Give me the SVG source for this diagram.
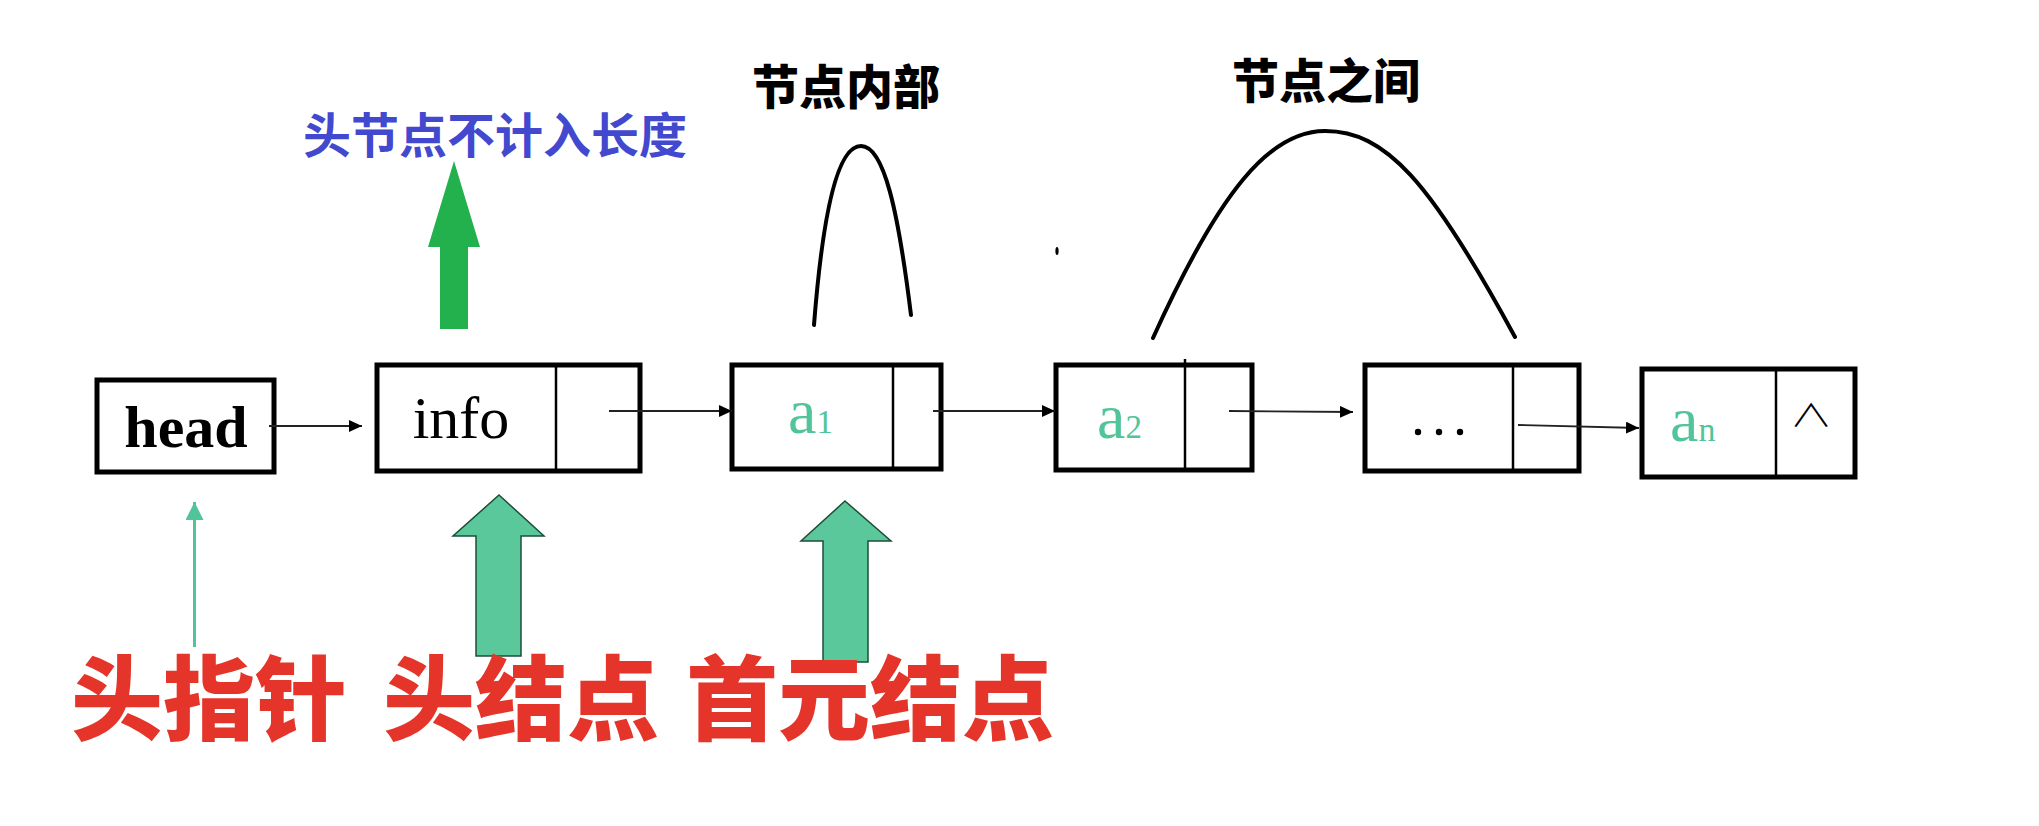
<svg xmlns="http://www.w3.org/2000/svg" width="2039" height="826" viewBox="0 0 2039 826">
<style>
.box{fill:none;stroke:#000;stroke-width:5}
.div{stroke:#000;stroke-width:2.5}
.lat{font-family:"Liberation Serif",serif}
.sub{fill:#52C49A;font-family:"Liberation Serif",serif}
.cjk{font-family:"Noto Sans CJK SC",sans-serif}
.conn{stroke:#222;stroke-width:1.8;fill:none}
.arc{stroke:#000;stroke-width:4;fill:none;stroke-linecap:round}
.big{fill:#5AC89A;stroke:#1E4D3A;stroke-width:1.5}
</style>
<defs>
<marker id="ah" markerUnits="userSpaceOnUse" markerWidth="14" markerHeight="12" refX="13" refY="6" orient="auto">
<path d="M0,0 L13,6 L0,12 z" fill="#000"/>
</marker>
<marker id="gh" markerUnits="userSpaceOnUse" markerWidth="20" markerHeight="18" refX="18" refY="9" orient="auto">
<path d="M0,0 L18,9 L0,18 z" fill="#52C49A"/>
</marker>
</defs>
<rect width="2039" height="826" fill="#fff"/>

<g id="node-head">
<rect class="box" x="97" y="380" width="177" height="92"/>
<text class="lat" x="186" y="447" font-size="60" font-weight="bold" text-anchor="middle">head</text>
</g>
<g id="node-info">
<rect class="box" x="377" y="365" width="263" height="106"/>
<line class="div" x1="556" y1="365" x2="556" y2="471"/>
<text class="lat" x="461" y="438" font-size="60" text-anchor="middle">info</text>
</g>
<g id="node-a1">
<rect class="box" x="732" y="365" width="209" height="104"/>
<line class="div" x1="893" y1="365" x2="893" y2="469"/>
<text class="sub" x="788" y="433" font-size="64">a<tspan font-size="33">1</tspan></text>
</g>
<g id="node-a2">
<rect class="box" x="1056" y="365" width="196" height="105"/>
<line class="div" x1="1185" y1="359" x2="1185" y2="470"/>
<text class="sub" x="1097" y="438" font-size="64">a<tspan font-size="33">2</tspan></text>
</g>
<g id="node-dots">
<rect class="box" x="1365" y="365" width="214" height="106"/>
<line class="div" x1="1513" y1="365" x2="1513" y2="471"/>
<circle cx="1418" cy="432" r="3.2"/>
<circle cx="1439" cy="432" r="3.2"/>
<circle cx="1460" cy="432" r="3.2"/>
</g>
<g id="node-an">
<rect class="box" x="1642" y="369" width="213" height="108"/>
<line class="div" x1="1776" y1="369" x2="1776" y2="477"/>
<text class="sub" x="1670" y="441" font-size="64">a<tspan font-size="34">n</tspan></text>
<text transform="translate(1811,426) scale(0.9,0.65)" x="0" y="0" font-size="48" font-weight="300" font-family="Noto Sans CJK SC,sans-serif" text-anchor="middle">∧</text>
</g>

<g id="connectors">
<line class="conn" x1="269" y1="426" x2="362" y2="426" marker-end="url(#ah)"/>
<line class="conn" x1="609" y1="411" x2="732" y2="411" marker-end="url(#ah)"/>
<line class="conn" x1="933" y1="411" x2="1055" y2="411" marker-end="url(#ah)"/>
<line class="conn" x1="1229" y1="411" x2="1353" y2="412" marker-end="url(#ah)"/>
<line class="conn" x1="1518" y1="425" x2="1639" y2="428" marker-end="url(#ah)"/>
</g>

<g id="label-head-length">
<text class="cjk" x="495" y="153" font-size="48" font-weight="bold" fill="#4249CF" text-anchor="middle">头节点不计入长度</text>
<path d="M454,161 L480,247 L468,247 L468,329 L440,329 L440,247 L428,247 Z" fill="#22B14C"/>
</g>

<g id="label-inner">
<text class="cjk" x="846" y="104" font-size="47" font-weight="900" text-anchor="middle">节点内部</text>
<path class="arc" d="M814,325 C823,210 838,146 861,146 C884,146 898,210 911,315"/>
</g>
<g id="label-between">
<text class="cjk" x="1326" y="98" font-size="47" font-weight="900" text-anchor="middle">节点之间</text>
<path class="arc" d="M1153,338 C1220,190 1270,131 1325,131 C1385,131 1430,180 1515,337"/>
</g>
<ellipse cx="1057" cy="251" rx="1.6" ry="4" fill="#000"/>

<g id="label-pointer">
<line x1="194.5" y1="647" x2="194.5" y2="502" stroke="#52C49A" stroke-width="3" marker-end="url(#gh)"/>
<text class="cjk" x="209" y="733" font-size="92" font-weight="900" fill="#E5352A" text-anchor="middle">头指针</text>
</g>
<g id="label-head-node">
<path class="big" d="M499,495 L544,536 L521,536 L521,656 L476,656 L476,536 L453,536 Z"/>
<text class="cjk" x="521" y="733" font-size="92" font-weight="900" fill="#E5352A" text-anchor="middle">头结点</text>
</g>
<g id="label-first-node">
<path class="big" d="M845,501 L891,541 L868,541 L868,662 L823,662 L823,541 L801,541 Z"/>
<text class="cjk" x="870" y="733" font-size="92" font-weight="900" fill="#E5352A" text-anchor="middle">首元结点</text>
</g>
</svg>
